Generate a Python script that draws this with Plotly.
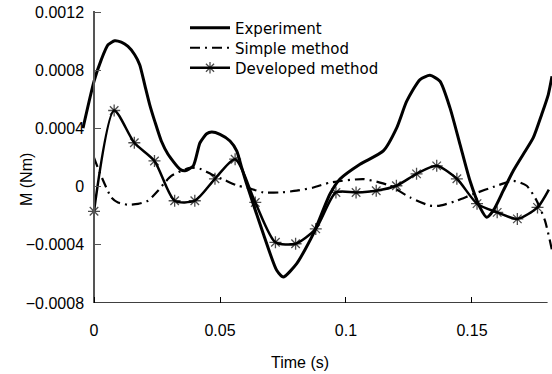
import plotly.graph_objects as go

# ---- data ----
exp_t = [-0.00437, 0.0, 0.0029, 0.00556, 0.00821, 0.01083, 0.01349, 0.01615, 0.01813, 0.02012,
         0.0221, 0.02409, 0.02671, 0.02937, 0.03413, 0.03611, 0.0394, 0.04206, 0.04472, 0.04671,
         0.05, 0.05397, 0.05663, 0.05861, 0.0606, 0.06718, 0.0725, 0.07512, 0.08044, 0.08702,
         0.09365, 0.09762, 0.10556, 0.1148, 0.12012, 0.1241, 0.12937, 0.13333, 0.1373, 0.14127,
         0.14524, 0.1492, 0.15317, 0.15583, 0.15845, 0.16242, 0.16639, 0.17036, 0.17433, 0.17766,
         0.18028, 0.18175]
exp_m = [0.000404, 0.000726, 0.000875, 0.000977, 0.001005, 0.000995, 0.000966, 0.000909, 0.00084, 0.000703,
         0.000566, 0.000452, 0.000315, 0.000224, 0.000121, 0.00011, 0.000144, 0.000303, 0.000365, 0.000377,
         0.000361, 0.000315, 0.000247, 0.000132, 0.000018, -0.000324, -0.000575, -0.000621, -0.000529, -0.000324,
         -0.00005, 0.000053, 0.000155, 0.000247, 0.000406, 0.000589, 0.000738, 0.000767, 0.000726, 0.000543,
         0.000292, 0.000041, -0.000142, -0.00021, -0.000164, -0.000027, 0.00011, 0.000224, 0.000338, 0.000498,
         0.000635, 0.00076]

simple_t = [0.0, 0.00226, 0.00687, 0.00952, 0.01349, 0.01746, 0.02143, 0.0254, 0.02806, 0.03067,
            0.03464, 0.03861, 0.04258, 0.04655, 0.05187, 0.05714, 0.0606, 0.06718, 0.07381, 0.08044,
            0.08702, 0.09365, 0.10687, 0.11349, 0.11746, 0.1254, 0.13333, 0.1373, 0.14393, 0.15052,
            0.1598, 0.16639, 0.17171, 0.17567, 0.17897, 0.18175]
simple_m = [0.000201, 0.000098, -0.000073, -0.000108, -0.000123, -0.000118, -0.000096, -0.000027, 0.000029, 0.000075,
            0.00011, 0.000132, 0.000121, 0.000087, 0.000046, 0.000007, -0.000005, -0.000039, -0.000039, -0.000027,
            -0.000005, 0.000029, 0.000053, 0.000029, 0.000007, -0.000073, -0.00013, -0.00013, -0.000096, -0.00005,
            0.000007, 0.000041, 0.000007, -0.000096, -0.000233, -0.000438]

dev_t = [0.0, 0.008, 0.016, 0.024, 0.032, 0.040, 0.048, 0.056, 0.064, 0.072, 0.080, 0.088,
         0.096, 0.104, 0.112, 0.120, 0.128, 0.136, 0.144, 0.152, 0.160, 0.168, 0.176, 0.1805]
dev_m = [-0.000169, 0.000525, 0.000303, 0.000178, -0.000096, -0.000096, 0.000055, 0.00019, -0.000108, -0.000382,
         -0.000392, -0.00029, -0.000039, -0.000039, -0.000027, 0.000007, 0.000089, 0.000144, 0.000055, -0.000116,
         -0.000176, -0.000221, -0.000142, -0.00002]

x_ticks = [0, 0.05, 0.1, 0.15]
x_ticktext = ["0", "0.05", "0.1", "0.15"]
y_ticks = [-0.0008, -0.0004, 0, 0.0004, 0.0008, 0.0012]
y_ticktext = ["\u22120.0008", "\u22120.0004", "0", "0.0004", "0.0008", "0.0012"]

TICKFONT = "Liberation Sans, Arial, sans-serif"
LEGFONT = "DejaVu Sans, Verdana, sans-serif"

L, R, T, B = 80, 0, 11, 71
W, H = 552, 374
PW, PH = W - L - R, H - T - B
x0 = -0.005556
x1 = 0.18175
ypos = (0 - x0) / (x1 - x0)


def py(px):
    return 1 - (px - T) / PH


def pxf(px):
    return (px - L) / PW


fig = go.Figure()
fig.add_trace(go.Scatter(x=exp_t, y=exp_m, mode="lines", name="Experiment", legend="legend",
                         line=dict(color="black", width=3, shape="spline", smoothing=0.6)))
fig.add_trace(go.Scatter(x=simple_t, y=simple_m, mode="lines", name="Simple method", legend="legend2",
                         line=dict(color="black", width=2.2, dash="10px,5px,2px,5px", shape="spline", smoothing=0.6)))
dev_sizes = [10] * (len(dev_t) - 1) + [0]
fig.add_trace(go.Scatter(x=dev_t, y=dev_m, mode="lines+markers", name="Developed method", legend="legend3",
                         line=dict(color="black", width=2.5, shape="spline", smoothing=0.7),
                         marker=dict(symbol="asterisk-open", size=dev_sizes, color="black",
                                     line=dict(color="black", width=1.3))))

# x axis line from 0 to 0.18
fig.add_shape(type="line", xref="x", yref="y", x0=0, x1=0.18, y0=-0.0008, y1=-0.0008,
              line=dict(color="black", width=1.5), layer="above")

leg_common = dict(xanchor="left", yanchor="middle", bgcolor="rgba(0,0,0,0)",
                  font=dict(family=LEGFONT, size=15, color="black"), itemwidth=40,
                  borderwidth=0)

fig.update_layout(
    width=W, height=H,
    margin=dict(l=L, r=R, t=T, b=B),
    paper_bgcolor="white", plot_bgcolor="white",
    font=dict(family=TICKFONT, size=16, color="black"),
    showlegend=True,
    legend=dict(x=pxf(185), y=py(28), **leg_common),
    legend2=dict(x=pxf(185), y=py(48), **leg_common),
    legend3=dict(x=pxf(185), y=py(68), **leg_common),
    xaxis=dict(range=[x0, x1], showgrid=False, zeroline=False, showline=False,
               tickvals=x_ticks, ticktext=x_ticktext, ticks="inside", ticklen=6, tickwidth=1.2,
               tickcolor="black", ticklabelstandoff=16, tickfont=dict(family=TICKFONT, size=16)),
    yaxis=dict(range=[-0.0008, 0.00121], showgrid=False, zeroline=False, showline=True,
               linecolor="#555555", linewidth=1.5, anchor="free", position=ypos,
               tickvals=y_ticks, ticktext=y_ticktext, ticks="inside", ticklen=6, tickwidth=1.2,
               tickcolor="#555555", ticklabelstandoff=6, tickfont=dict(family=TICKFONT, size=16)),
)

fig.add_annotation(text="Time (s)", xref="paper", yref="paper", x=pxf(300), y=py(362),
                   showarrow=False, xanchor="center", yanchor="middle", font=dict(family=TICKFONT, size=16))
fig.add_annotation(text="M (Nm)", xref="paper", yref="paper", x=pxf(26), y=py(180),
                   showarrow=False, xanchor="center", yanchor="middle", textangle=-90,
                   font=dict(family=TICKFONT, size=16))

fig.write_html("out.html")
